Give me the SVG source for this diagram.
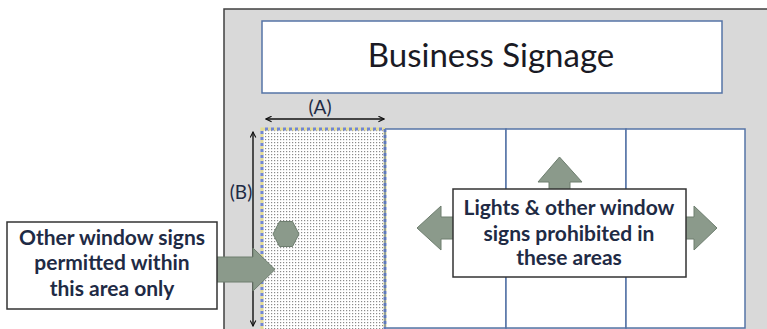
<svg xmlns="http://www.w3.org/2000/svg" width="767" height="329" viewBox="0 0 767 329">
  <defs>
    <pattern id="dots" width="3" height="3" patternUnits="userSpaceOnUse">
      <rect width="3" height="3" fill="#ffffff"/>
      <rect x="1" y="1" width="1.2" height="1.2" fill="#8a8a8a"/>
    </pattern>
    <marker id="open" viewBox="0 0 10 10" refX="9" refY="5" markerWidth="7" markerHeight="7" orient="auto-start-reverse" markerUnits="userSpaceOnUse">
      <path d="M1,1 L9,5 L1,9" fill="none" stroke="#111" stroke-width="1.6"/>
    </marker>
    <style>
      .panel { fill: #ffffff; stroke: #5574a6; stroke-width: 1.5; }
      .arrow { fill: #8b9a8b; stroke: #6e7e6f; stroke-width: 1; }
      .box { fill: #ffffff; stroke: #333333; stroke-width: 1.5; }
      .lbl { font-family: Lato, "Liberation Sans", sans-serif; font-weight: bold; font-size: 21px; fill: #1f2b45; text-anchor: middle; }
      .dim { font-family: Lato, "Liberation Sans", sans-serif; font-size: 19px; fill: #1f2b45; text-anchor: middle; }
      .dimline { stroke: #111; stroke-width: 1.4; fill: none; }
    </style>
  </defs>

  <rect x="0" y="0" width="767" height="329" fill="#ffffff"/>

  <g id="storefront">
    <rect x="224" y="9" width="560" height="340" fill="#d9d9d9" stroke="#404040" stroke-width="1.5"/>
  </g>

  <g id="business-signage">
    <rect class="panel" x="262" y="21" width="460" height="72"/>
    <text x="491" y="67" font-family="Lato, 'Liberation Sans', sans-serif" font-size="33" fill="#1a1a24" text-anchor="middle">Business Signage</text>
  </g>

  <g id="window-panels">
    <rect class="panel" x="385" y="129" width="121" height="199"/>
    <rect class="panel" x="506" y="129" width="120" height="199"/>
    <rect class="panel" x="626" y="129" width="119" height="199"/>
  </g>

  <g id="permitted-area">
    <rect x="262" y="129" width="123" height="205" fill="url(#dots)"/>
    <rect x="262" y="129" width="123" height="205" fill="none" stroke="#e3dc96" stroke-width="3" stroke-dasharray="3 3"/>
    <rect x="262" y="129" width="123" height="205" fill="none" stroke="#7186d4" stroke-width="3" stroke-dasharray="3 3" stroke-dashoffset="3"/>
    <line x1="385" y1="129" x2="385" y2="329" stroke="#5574a6" stroke-width="1.2"/>
    <polygon class="arrow" points="273,234 279.5,221.5 292.5,221.5 299,234 292.5,246.5 279.5,246.5" stroke-linejoin="round"/>
  </g>

  <g id="connectors">
    <line class="dimline" x1="266" y1="119" x2="384" y2="119" marker-start="url(#open)" marker-end="url(#open)"/>
    <line class="dimline" x1="253" y1="132" x2="253" y2="326" marker-start="url(#open)" marker-end="url(#open)"/>
    <polygon class="arrow" points="217,257 253,257 253,248 275,269.5 253,291 253,282 217,282"/>
    <polygon class="arrow" points="455,217 441,217 441,206 417,228 441,250 441,239 455,239"/>
    <polygon class="arrow" points="684,217 694,217 694,206 717,228 694,250 694,239 684,239"/>
    <polygon class="arrow" points="549,191 549,182 538,182 559.5,157 582,182 570,182 570,191"/>
  </g>

  <g id="dim-labels">
    <text class="dim" x="320" y="114">(A)</text>
    <text class="dim" x="241" y="199">(B)</text>
  </g>

  <g id="permitted-note">
    <rect class="box" x="7" y="222" width="210" height="87"/>
    <text class="lbl" x="112" y="245">Other window signs</text>
    <text class="lbl" x="112" y="270">permitted within</text>
    <text class="lbl" x="112" y="296">this area only</text>
  </g>

  <g id="prohibited-note">
    <rect class="box" x="453" y="189" width="233" height="88"/>
    <text class="lbl" x="569" y="215">Lights &amp; other window</text>
    <text class="lbl" x="569" y="241">signs prohibited in</text>
    <text class="lbl" x="569" y="265">these areas</text>
  </g>
</svg>
